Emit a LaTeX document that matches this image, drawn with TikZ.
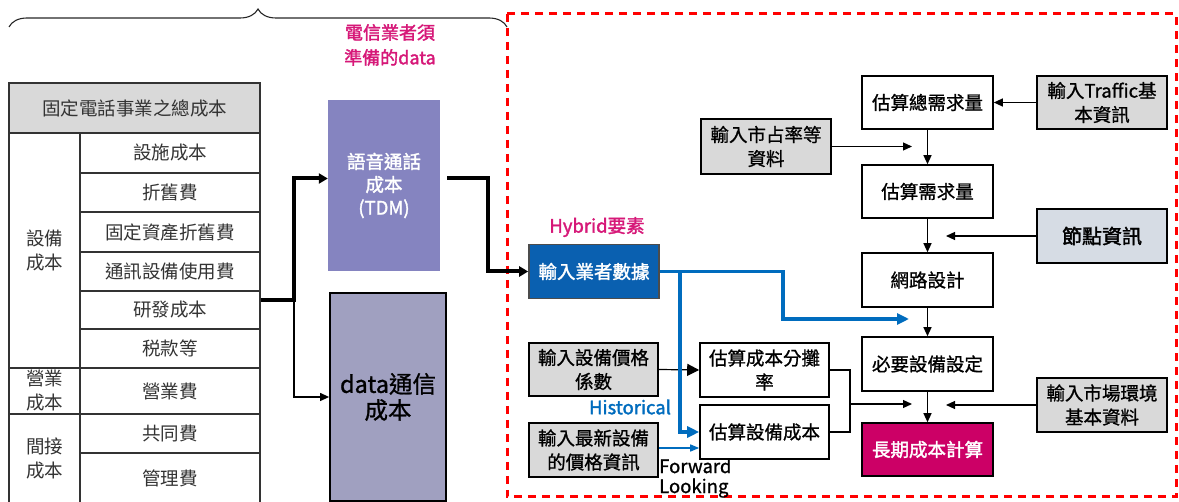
\documentclass[tikz,border=0pt]{standalone}
\usepackage{fontspec}
\setmainfont{Noto Sans CJK TC}
\newfontfamily\medf{Noto Sans CJK TC}[FakeBold=1.0]
\newfontfamily\semif{Noto Sans CJK TC}[FakeBold=1.8]
\usetikzlibrary{arrows.meta,decorations.pathreplacing}
\definecolor{pinkc}{RGB}{214,24,120}
\definecolor{bluebox}{RGB}{10,96,176}
\definecolor{bluel}{RGB}{0,108,190}
\definecolor{voicec}{RGB}{133,132,192}
\definecolor{datac}{RGB}{160,160,192}
\definecolor{grayc}{RGB}{217,217,217}
\definecolor{magc}{RGB}{204,0,102}
\definecolor{nodec}{RGB}{214,220,228}
\tikzset{
  cell/.style={draw=black!80, line width=1.2pt, inner sep=0pt, align=center, text=black!80, font=\fontsize{18.5}{24}\selectfont},
  bx/.style={draw=black, line width=1.6pt, inner sep=0pt, align=center, minimum width=130pt, minimum height=54pt, font=\medf\fontsize{18.5}{24}\selectfont},
  inbox/.style={bx, fill=grayc},
  arr/.style={line width=1.2pt, -{Triangle[length=9pt,width=8pt]}},
  thickarr/.style={line width=4pt, -{Triangle[length=9pt,width=10pt]}},
  bluethick/.style={draw=bluel, line width=3.5pt, -{Triangle[length=12pt,width=11pt]}},
  bluethin/.style={draw=bluel, line width=1.5pt, -{Triangle[length=9pt,width=7pt]}},
  lbl/.style={inner sep=0pt, font=\semif\fontsize{18.5}{22}\selectfont}
}
\begin{document}
\begin{tikzpicture}[x=1pt,y=-1pt]
\useasboundingbox (0,0) rectangle (1179,502);
% brace
\draw[black!85, line width=1.1pt, decorate, decoration={brace, amplitude=18pt}] (9,27) -- (507,27);
\node[lbl, text=pinkc, align=center, font=\semif\fontsize{18}{25}\selectfont] (prep) at (390,45) {電信業者須\\準備的data};
% red dashed frame
\draw[red, line width=3pt, dash pattern=on 8pt off 6pt] (507,14) rectangle (1176,497);
% table
\node[cell, fill=grayc, minimum width=251pt, minimum height=50pt] (hdr) at (134.5,108) {固定電話事業之總成本};
\node[cell, minimum width=71pt, minimum height=235pt] (l1) at (44.5,250.5) {設備\\成本};
\node[cell, minimum width=71pt, minimum height=46pt] (l2) at (44.5,391) {營業\\成本};
\node[cell, minimum width=71pt, minimum height=89pt] (l3) at (44.5,458.5) {間接\\成本};
\node[cell, minimum width=180pt, minimum height=40pt] (r1) at (170,153) {設施成本};
\node[cell, minimum width=180pt, minimum height=39pt] (r2) at (170,192.5) {折舊費};
\node[cell, minimum width=180pt, minimum height=40pt] (r3) at (170,232) {固定資產折舊費};
\node[cell, minimum width=180pt, minimum height=39pt] (r4) at (170,271.5) {通訊設備使用費};
\node[cell, minimum width=180pt, minimum height=38pt] (r5) at (170,310) {研發成本};
\node[cell, minimum width=180pt, minimum height=39pt] (r6) at (170,348.5) {税款等};
\node[cell, minimum width=180pt, minimum height=46pt] (r7) at (170,391) {營業費};
\node[cell, minimum width=180pt, minimum height=39pt] (r8) at (170,433.5) {共同費};
\node[cell, minimum width=180pt, minimum height=50pt] (r9) at (170,478) {管理費};
% middle boxes
\node[fill=voicec, minimum width=112pt, minimum height=171pt, inner sep=0pt, align=center, text=white, font=\semif\fontsize{18.5}{23}\selectfont] (voice) at (384,185.5) {語音通話\\成本\\(TDM)};
\node[draw=black, line width=1.8pt, fill=datac, minimum width=116pt, minimum height=208pt, inner sep=0pt, align=center, font=\medf\fontsize{23.5}{26}\selectfont] (data) at (388,397) {data通信\\成本};
\coordinate (j1) at (294,300);
\draw[thickarr] ([yshift=10pt]r5.east) -- (j1) |- ([yshift=7pt]voice.west);
\draw[line width=1.2pt, -{Triangle[length=9pt,width=8pt]}] (j1) |- (data.west);
% blue input etc
\node[bx, fill=bluebox, text=white, draw=black!70, font=\semif\fontsize{18.5}{24}\selectfont] (inp) at (594,271.5) {輸入業者數據};
\node[lbl, text=pinkc] (hyb) at (597,227) {Hybrid要素};
\coordinate (j2) at (488,178.5);
\draw[thickarr] ([xshift=7pt,yshift=7pt]voice.east) -- (j2) |- (inp.west);
\node[inbox, minimum width=129pt, minimum height=53pt] (price) at (593.5,369.5) {輸入設備價格\\係數};
\node[inbox, minimum width=129pt] (latest) at (593.5,450) {輸入最新設備\\的價格資訊};
\node[bx, minimum width=129pt] (alloc) at (764.5,370) {估算成本分攤\\率};
\node[bx, minimum width=129pt] (equip) at (764.5,432) {估算設備成本};
\node[lbl, text=bluel] (hist) at (630,407) {Historical};
\node[lbl, anchor=west, align=left, font=\medf\fontsize{18.5}{20}\selectfont] (fwd) at (659,478) {Forward\\Looking};
% right column
\node[bx, minimum width=131pt, minimum height=53pt] (tot) at (927.5,102.5) {估算總需求量};
\node[bx, minimum width=131pt, minimum height=53pt] (dem) at (927.5,191.5) {估算需求量};
\node[bx, minimum width=131pt] (net) at (927.5,280) {網路設計};
\node[bx, minimum width=131pt] (need) at (927.5,364) {必要設備設定};
\node[bx, minimum width=131pt, minimum height=53pt, fill=magc, text=white, font=\semif\fontsize{18.5}{24}\selectfont] (lrc) at (927.5,449.5) {長期成本計算};
\node[inbox, minimum height=53pt] (traf) at (1102,102.5) {輸入Traffic基\\本資訊};
\node[bx, fill=nodec, font=\semif\fontsize{20}{24}\selectfont] (nodei) at (1102,236) {節點資訊};
\node[inbox] (mkt) at (1102,405) {輸入市場環境\\基本資料};
\node[inbox, minimum height=55pt] (share) at (766,146.5) {輸入市占率等\\資料};
% connectors
\coordinate (c1) at (912,146.5);
\coordinate (c2) at (946,236);
\coordinate (c3) at (909,319);
\coordinate (c4) at (912,404);
\coordinate (c5) at (946,405);
\coordinate (m1) at (850,370);
\coordinate (m2) at (850,432);
\coordinate (m3) at (850,404);
\coordinate (b1) at (783,271.5);
\coordinate (b2) at (680,271.5);
\draw[arr] (traf.west) -- (tot.east);
\draw[arr] (share.east) -- (c1);
\draw[arr] (tot.south) -- (dem.north);
\draw[arr] (nodei.west) -- (c2);
\draw[arr] (dem.south) -- (net.north);
\draw[arr] (net.south) -- (need.north);
\draw[arr] (need.south) -- (lrc.north);
\draw[arr] (mkt.west) -- (c5);
\draw[line width=1.2pt] (alloc.east) -- (m1) -- (m2) -- (equip.east);
\draw[arr] (m3) -- (c4);
\draw[line width=1.2pt, -{Triangle[length=12pt,width=12pt]}] (price.east) -- (alloc.west);
\draw[bluethick] (inp.east) -- (b1) |- (c3);
\draw[bluethick] (b2) |- (equip.west);
\draw[bluethin] (latest.east |- 0,448) -- ([yshift=-16pt]equip.west);
\end{tikzpicture}
\end{document}
